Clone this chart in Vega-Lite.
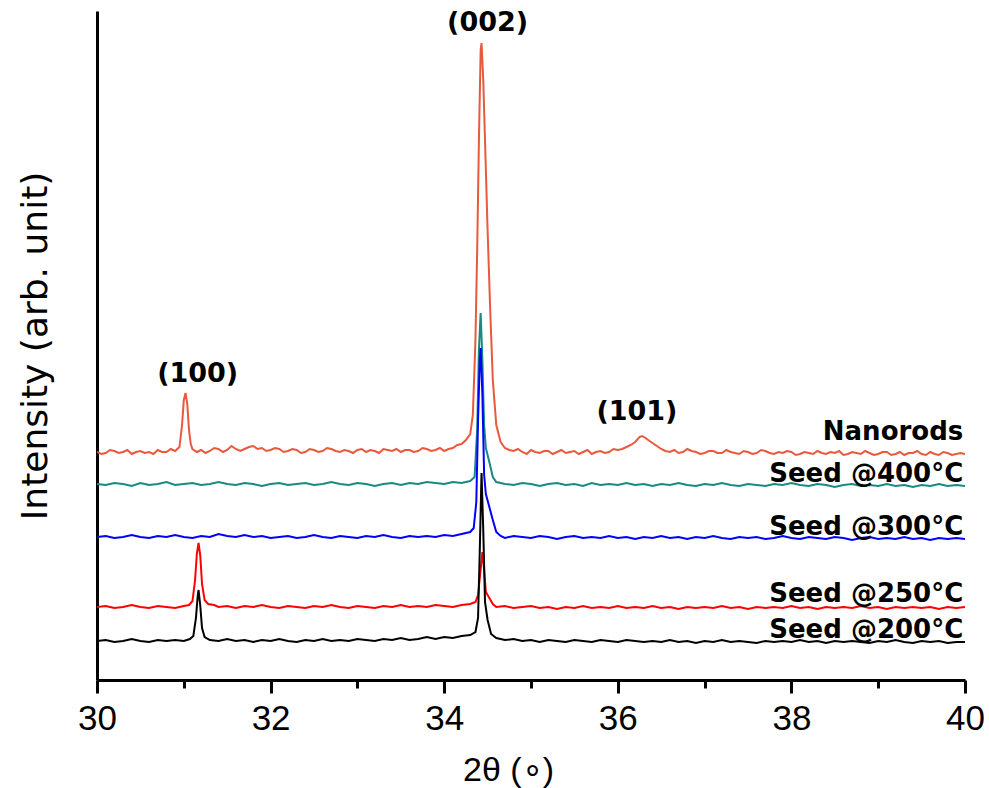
{
"$schema": "https://vega.github.io/schema/vega-lite/v6.json",
"width": 868, "height": 669,
"autosize": {"type": "none"},
"padding": {"left": 97, "top": 11, "right": 24, "bottom": 108},
"background": "white",
"config": {"view": {"stroke": null}},
"datasets": {
"xrd": [
{"s":"Nanorods","x":30.0,"y":228},{"s":"Nanorods","x":30.05,"y":226},{"s":"Nanorods","x":30.1,"y":227},{"s":"Nanorods","x":30.15,"y":230},{"s":"Nanorods","x":30.2,"y":229},{"s":"Nanorods","x":30.25,"y":227},{"s":"Nanorods","x":30.3,"y":228},{"s":"Nanorods","x":30.35,"y":230},{"s":"Nanorods","x":30.4,"y":226},{"s":"Nanorods","x":30.45,"y":228},{"s":"Nanorods","x":30.5,"y":229},{"s":"Nanorods","x":30.55,"y":227},{"s":"Nanorods","x":30.6,"y":228},{"s":"Nanorods","x":30.65,"y":226},{"s":"Nanorods","x":30.7,"y":230},{"s":"Nanorods","x":30.75,"y":228},{"s":"Nanorods","x":30.8,"y":228},{"s":"Nanorods","x":30.85,"y":231},{"s":"Nanorods","x":30.9,"y":229},{"s":"Nanorods","x":30.95,"y":233},{"s":"Nanorods","x":30.98,"y":255},{"s":"Nanorods","x":31.0,"y":280},{"s":"Nanorods","x":31.02,"y":287},{"s":"Nanorods","x":31.04,"y":276},{"s":"Nanorods","x":31.06,"y":250},{"s":"Nanorods","x":31.08,"y":236},{"s":"Nanorods","x":31.1,"y":231},{"s":"Nanorods","x":31.15,"y":228},{"s":"Nanorods","x":31.2,"y":230},{"s":"Nanorods","x":31.25,"y":227},{"s":"Nanorods","x":31.3,"y":229},{"s":"Nanorods","x":31.35,"y":232},{"s":"Nanorods","x":31.4,"y":231},{"s":"Nanorods","x":31.45,"y":228},{"s":"Nanorods","x":31.5,"y":230},{"s":"Nanorods","x":31.55,"y":234},{"s":"Nanorods","x":31.6,"y":231},{"s":"Nanorods","x":31.65,"y":229},{"s":"Nanorods","x":31.7,"y":231},{"s":"Nanorods","x":31.75,"y":233},{"s":"Nanorods","x":31.8,"y":234},{"s":"Nanorods","x":31.85,"y":231},{"s":"Nanorods","x":31.9,"y":232},{"s":"Nanorods","x":31.95,"y":229},{"s":"Nanorods","x":32.0,"y":230},{"s":"Nanorods","x":32.05,"y":232},{"s":"Nanorods","x":32.1,"y":231},{"s":"Nanorods","x":32.15,"y":228},{"s":"Nanorods","x":32.2,"y":229},{"s":"Nanorods","x":32.25,"y":231},{"s":"Nanorods","x":32.3,"y":230},{"s":"Nanorods","x":32.35,"y":227},{"s":"Nanorods","x":32.4,"y":228},{"s":"Nanorods","x":32.45,"y":231},{"s":"Nanorods","x":32.5,"y":230},{"s":"Nanorods","x":32.55,"y":228},{"s":"Nanorods","x":32.6,"y":229},{"s":"Nanorods","x":32.65,"y":232},{"s":"Nanorods","x":32.7,"y":231},{"s":"Nanorods","x":32.75,"y":229},{"s":"Nanorods","x":32.8,"y":228},{"s":"Nanorods","x":32.85,"y":230},{"s":"Nanorods","x":32.9,"y":229},{"s":"Nanorods","x":32.95,"y":227},{"s":"Nanorods","x":33.0,"y":230},{"s":"Nanorods","x":33.05,"y":231},{"s":"Nanorods","x":33.1,"y":228},{"s":"Nanorods","x":33.15,"y":230},{"s":"Nanorods","x":33.2,"y":229},{"s":"Nanorods","x":33.25,"y":227},{"s":"Nanorods","x":33.3,"y":231},{"s":"Nanorods","x":33.35,"y":230},{"s":"Nanorods","x":33.4,"y":229},{"s":"Nanorods","x":33.45,"y":231},{"s":"Nanorods","x":33.5,"y":228},{"s":"Nanorods","x":33.55,"y":230},{"s":"Nanorods","x":33.6,"y":230},{"s":"Nanorods","x":33.65,"y":228},{"s":"Nanorods","x":33.7,"y":229},{"s":"Nanorods","x":33.75,"y":232},{"s":"Nanorods","x":33.8,"y":231},{"s":"Nanorods","x":33.85,"y":229},{"s":"Nanorods","x":33.9,"y":230},{"s":"Nanorods","x":33.95,"y":232},{"s":"Nanorods","x":34.0,"y":229},{"s":"Nanorods","x":34.05,"y":231},{"s":"Nanorods","x":34.1,"y":232},{"s":"Nanorods","x":34.15,"y":235},{"s":"Nanorods","x":34.2,"y":236},{"s":"Nanorods","x":34.25,"y":240},{"s":"Nanorods","x":34.3,"y":246},{"s":"Nanorods","x":34.33,"y":265},{"s":"Nanorods","x":34.36,"y":340},{"s":"Nanorods","x":34.38,"y":430},{"s":"Nanorods","x":34.4,"y":540},{"s":"Nanorods","x":34.42,"y":630},{"s":"Nanorods","x":34.43,"y":637},{"s":"Nanorods","x":34.45,"y":600},{"s":"Nanorods","x":34.47,"y":540},{"s":"Nanorods","x":34.5,"y":450},{"s":"Nanorods","x":34.53,"y":370},{"s":"Nanorods","x":34.56,"y":300},{"s":"Nanorods","x":34.6,"y":255},{"s":"Nanorods","x":34.65,"y":238},{"s":"Nanorods","x":34.7,"y":232},{"s":"Nanorods","x":34.75,"y":230},{"s":"Nanorods","x":34.8,"y":229},{"s":"Nanorods","x":34.85,"y":231},{"s":"Nanorods","x":34.9,"y":228},{"s":"Nanorods","x":34.95,"y":226},{"s":"Nanorods","x":35.0,"y":230},{"s":"Nanorods","x":35.05,"y":228},{"s":"Nanorods","x":35.1,"y":227},{"s":"Nanorods","x":35.15,"y":229},{"s":"Nanorods","x":35.2,"y":229},{"s":"Nanorods","x":35.25,"y":226},{"s":"Nanorods","x":35.3,"y":228},{"s":"Nanorods","x":35.35,"y":230},{"s":"Nanorods","x":35.4,"y":227},{"s":"Nanorods","x":35.45,"y":228},{"s":"Nanorods","x":35.5,"y":229},{"s":"Nanorods","x":35.55,"y":226},{"s":"Nanorods","x":35.6,"y":228},{"s":"Nanorods","x":35.65,"y":230},{"s":"Nanorods","x":35.7,"y":226},{"s":"Nanorods","x":35.75,"y":228},{"s":"Nanorods","x":35.8,"y":229},{"s":"Nanorods","x":35.85,"y":227},{"s":"Nanorods","x":35.9,"y":228},{"s":"Nanorods","x":35.95,"y":231},{"s":"Nanorods","x":36.0,"y":230},{"s":"Nanorods","x":36.05,"y":231},{"s":"Nanorods","x":36.1,"y":233},{"s":"Nanorods","x":36.15,"y":235},{"s":"Nanorods","x":36.2,"y":238},{"s":"Nanorods","x":36.25,"y":243},{"s":"Nanorods","x":36.28,"y":244},{"s":"Nanorods","x":36.32,"y":242},{"s":"Nanorods","x":36.35,"y":240},{"s":"Nanorods","x":36.4,"y":237},{"s":"Nanorods","x":36.45,"y":234},{"s":"Nanorods","x":36.5,"y":231},{"s":"Nanorods","x":36.55,"y":229},{"s":"Nanorods","x":36.6,"y":228},{"s":"Nanorods","x":36.65,"y":230},{"s":"Nanorods","x":36.7,"y":227},{"s":"Nanorods","x":36.75,"y":228},{"s":"Nanorods","x":36.8,"y":231},{"s":"Nanorods","x":36.85,"y":229},{"s":"Nanorods","x":36.9,"y":228},{"s":"Nanorods","x":36.95,"y":226},{"s":"Nanorods","x":37.0,"y":227},{"s":"Nanorods","x":37.05,"y":229},{"s":"Nanorods","x":37.1,"y":229},{"s":"Nanorods","x":37.15,"y":227},{"s":"Nanorods","x":37.2,"y":227},{"s":"Nanorods","x":37.25,"y":230},{"s":"Nanorods","x":37.3,"y":228},{"s":"Nanorods","x":37.35,"y":227},{"s":"Nanorods","x":37.4,"y":226},{"s":"Nanorods","x":37.45,"y":229},{"s":"Nanorods","x":37.5,"y":228},{"s":"Nanorods","x":37.55,"y":226},{"s":"Nanorods","x":37.6,"y":227},{"s":"Nanorods","x":37.65,"y":230},{"s":"Nanorods","x":37.7,"y":229},{"s":"Nanorods","x":37.75,"y":227},{"s":"Nanorods","x":37.8,"y":226},{"s":"Nanorods","x":37.85,"y":228},{"s":"Nanorods","x":37.9,"y":227},{"s":"Nanorods","x":37.95,"y":229},{"s":"Nanorods","x":38.0,"y":228},{"s":"Nanorods","x":38.05,"y":225},{"s":"Nanorods","x":38.1,"y":226},{"s":"Nanorods","x":38.15,"y":228},{"s":"Nanorods","x":38.2,"y":227},{"s":"Nanorods","x":38.25,"y":226},{"s":"Nanorods","x":38.3,"y":229},{"s":"Nanorods","x":38.35,"y":227},{"s":"Nanorods","x":38.4,"y":226},{"s":"Nanorods","x":38.45,"y":228},{"s":"Nanorods","x":38.5,"y":227},{"s":"Nanorods","x":38.55,"y":229},{"s":"Nanorods","x":38.6,"y":225},{"s":"Nanorods","x":38.65,"y":226},{"s":"Nanorods","x":38.7,"y":228},{"s":"Nanorods","x":38.75,"y":227},{"s":"Nanorods","x":38.8,"y":226},{"s":"Nanorods","x":38.85,"y":229},{"s":"Nanorods","x":38.9,"y":227},{"s":"Nanorods","x":38.95,"y":225},{"s":"Nanorods","x":39.0,"y":226},{"s":"Nanorods","x":39.05,"y":228},{"s":"Nanorods","x":39.1,"y":228},{"s":"Nanorods","x":39.15,"y":225},{"s":"Nanorods","x":39.2,"y":226},{"s":"Nanorods","x":39.25,"y":228},{"s":"Nanorods","x":39.3,"y":225},{"s":"Nanorods","x":39.35,"y":227},{"s":"Nanorods","x":39.4,"y":227},{"s":"Nanorods","x":39.45,"y":229},{"s":"Nanorods","x":39.5,"y":226},{"s":"Nanorods","x":39.55,"y":225},{"s":"Nanorods","x":39.6,"y":228},{"s":"Nanorods","x":39.65,"y":226},{"s":"Nanorods","x":39.7,"y":225},{"s":"Nanorods","x":39.75,"y":228},{"s":"Nanorods","x":39.8,"y":227},{"s":"Nanorods","x":39.85,"y":225},{"s":"Nanorods","x":39.9,"y":226},{"s":"Nanorods","x":39.95,"y":227},{"s":"Nanorods","x":40.0,"y":226},

{"s":"S400","x":30.0,"y":196},{"s":"S400","x":30.1,"y":195},{"s":"S400","x":30.2,"y":197},{"s":"S400","x":30.3,"y":196},{"s":"S400","x":30.4,"y":194},{"s":"S400","x":30.5,"y":197},{"s":"S400","x":30.6,"y":195},{"s":"S400","x":30.7,"y":196},{"s":"S400","x":30.8,"y":198},{"s":"S400","x":30.9,"y":195},{"s":"S400","x":31.0,"y":196},{"s":"S400","x":31.1,"y":197},{"s":"S400","x":31.2,"y":195},{"s":"S400","x":31.3,"y":196},{"s":"S400","x":31.4,"y":198},{"s":"S400","x":31.5,"y":196},{"s":"S400","x":31.6,"y":195},{"s":"S400","x":31.7,"y":197},{"s":"S400","x":31.8,"y":196},{"s":"S400","x":31.9,"y":194},{"s":"S400","x":32.0,"y":196},{"s":"S400","x":32.1,"y":197},{"s":"S400","x":32.2,"y":195},{"s":"S400","x":32.3,"y":196},{"s":"S400","x":32.4,"y":197},{"s":"S400","x":32.5,"y":195},{"s":"S400","x":32.6,"y":196},{"s":"S400","x":32.7,"y":198},{"s":"S400","x":32.8,"y":196},{"s":"S400","x":32.9,"y":195},{"s":"S400","x":33.0,"y":197},{"s":"S400","x":33.1,"y":196},{"s":"S400","x":33.2,"y":194},{"s":"S400","x":33.3,"y":196},{"s":"S400","x":33.4,"y":197},{"s":"S400","x":33.5,"y":195},{"s":"S400","x":33.6,"y":197},{"s":"S400","x":33.7,"y":196},{"s":"S400","x":33.8,"y":198},{"s":"S400","x":33.9,"y":197},{"s":"S400","x":34.0,"y":196},{"s":"S400","x":34.1,"y":198},{"s":"S400","x":34.2,"y":197},{"s":"S400","x":34.3,"y":199},{"s":"S400","x":34.35,"y":203},{"s":"S400","x":34.38,"y":250},{"s":"S400","x":34.4,"y":330},{"s":"S400","x":34.42,"y":367},{"s":"S400","x":34.44,"y":320},{"s":"S400","x":34.46,"y":255},{"s":"S400","x":34.48,"y":232},{"s":"S400","x":34.52,"y":218},{"s":"S400","x":34.56,"y":203},{"s":"S400","x":34.6,"y":198},{"s":"S400","x":34.7,"y":196},{"s":"S400","x":34.8,"y":195},{"s":"S400","x":34.9,"y":197},{"s":"S400","x":35.0,"y":196},{"s":"S400","x":35.1,"y":194},{"s":"S400","x":35.2,"y":196},{"s":"S400","x":35.3,"y":197},{"s":"S400","x":35.4,"y":195},{"s":"S400","x":35.5,"y":196},{"s":"S400","x":35.6,"y":194},{"s":"S400","x":35.7,"y":197},{"s":"S400","x":35.8,"y":195},{"s":"S400","x":35.9,"y":196},{"s":"S400","x":36.0,"y":195},{"s":"S400","x":36.1,"y":197},{"s":"S400","x":36.2,"y":195},{"s":"S400","x":36.3,"y":196},{"s":"S400","x":36.4,"y":194},{"s":"S400","x":36.5,"y":196},{"s":"S400","x":36.6,"y":195},{"s":"S400","x":36.7,"y":197},{"s":"S400","x":36.8,"y":195},{"s":"S400","x":36.9,"y":194},{"s":"S400","x":37.0,"y":196},{"s":"S400","x":37.1,"y":195},{"s":"S400","x":37.2,"y":197},{"s":"S400","x":37.3,"y":195},{"s":"S400","x":37.4,"y":194},{"s":"S400","x":37.5,"y":196},{"s":"S400","x":37.6,"y":195},{"s":"S400","x":37.7,"y":194},{"s":"S400","x":37.8,"y":196},{"s":"S400","x":37.9,"y":195},{"s":"S400","x":38.0,"y":197},{"s":"S400","x":38.1,"y":195},{"s":"S400","x":38.2,"y":194},{"s":"S400","x":38.3,"y":196},{"s":"S400","x":38.4,"y":195},{"s":"S400","x":38.5,"y":193},{"s":"S400","x":38.6,"y":195},{"s":"S400","x":38.7,"y":196},{"s":"S400","x":38.8,"y":194},{"s":"S400","x":38.9,"y":195},{"s":"S400","x":39.0,"y":194},{"s":"S400","x":39.1,"y":196},{"s":"S400","x":39.2,"y":194},{"s":"S400","x":39.3,"y":195},{"s":"S400","x":39.4,"y":193},{"s":"S400","x":39.5,"y":195},{"s":"S400","x":39.6,"y":194},{"s":"S400","x":39.7,"y":196},{"s":"S400","x":39.8,"y":194},{"s":"S400","x":39.9,"y":195},{"s":"S400","x":40.0,"y":194},

{"s":"S300","x":30.0,"y":143},{"s":"S300","x":30.1,"y":144},{"s":"S300","x":30.2,"y":142},{"s":"S300","x":30.3,"y":143},{"s":"S300","x":30.4,"y":145},{"s":"S300","x":30.5,"y":143},{"s":"S300","x":30.6,"y":142},{"s":"S300","x":30.7,"y":144},{"s":"S300","x":30.8,"y":143},{"s":"S300","x":30.9,"y":145},{"s":"S300","x":31.0,"y":143},{"s":"S300","x":31.1,"y":142},{"s":"S300","x":31.2,"y":144},{"s":"S300","x":31.3,"y":143},{"s":"S300","x":31.4,"y":146},{"s":"S300","x":31.5,"y":144},{"s":"S300","x":31.6,"y":143},{"s":"S300","x":31.7,"y":145},{"s":"S300","x":31.8,"y":143},{"s":"S300","x":31.9,"y":144},{"s":"S300","x":32.0,"y":142},{"s":"S300","x":32.1,"y":143},{"s":"S300","x":32.2,"y":144},{"s":"S300","x":32.3,"y":142},{"s":"S300","x":32.4,"y":143},{"s":"S300","x":32.5,"y":145},{"s":"S300","x":32.6,"y":143},{"s":"S300","x":32.7,"y":142},{"s":"S300","x":32.8,"y":144},{"s":"S300","x":32.9,"y":143},{"s":"S300","x":33.0,"y":142},{"s":"S300","x":33.1,"y":144},{"s":"S300","x":33.2,"y":143},{"s":"S300","x":33.3,"y":145},{"s":"S300","x":33.4,"y":143},{"s":"S300","x":33.5,"y":142},{"s":"S300","x":33.6,"y":144},{"s":"S300","x":33.7,"y":143},{"s":"S300","x":33.8,"y":144},{"s":"S300","x":33.9,"y":143},{"s":"S300","x":34.0,"y":145},{"s":"S300","x":34.1,"y":144},{"s":"S300","x":34.2,"y":146},{"s":"S300","x":34.3,"y":148},{"s":"S300","x":34.34,"y":152},{"s":"S300","x":34.37,"y":178},{"s":"S300","x":34.39,"y":260},{"s":"S300","x":34.41,"y":320},{"s":"S300","x":34.42,"y":332},{"s":"S300","x":34.44,"y":285},{"s":"S300","x":34.46,"y":205},{"s":"S300","x":34.48,"y":186},{"s":"S300","x":34.52,"y":173},{"s":"S300","x":34.56,"y":160},{"s":"S300","x":34.6,"y":148},{"s":"S300","x":34.65,"y":144},{"s":"S300","x":34.7,"y":142},{"s":"S300","x":34.8,"y":144},{"s":"S300","x":34.9,"y":143},{"s":"S300","x":35.0,"y":142},{"s":"S300","x":35.1,"y":144},{"s":"S300","x":35.2,"y":143},{"s":"S300","x":35.3,"y":141},{"s":"S300","x":35.4,"y":143},{"s":"S300","x":35.5,"y":144},{"s":"S300","x":35.6,"y":142},{"s":"S300","x":35.7,"y":143},{"s":"S300","x":35.8,"y":142},{"s":"S300","x":35.9,"y":144},{"s":"S300","x":36.0,"y":142},{"s":"S300","x":36.1,"y":143},{"s":"S300","x":36.2,"y":141},{"s":"S300","x":36.3,"y":143},{"s":"S300","x":36.4,"y":142},{"s":"S300","x":36.5,"y":144},{"s":"S300","x":36.6,"y":142},{"s":"S300","x":36.7,"y":143},{"s":"S300","x":36.8,"y":141},{"s":"S300","x":36.9,"y":143},{"s":"S300","x":37.0,"y":142},{"s":"S300","x":37.1,"y":144},{"s":"S300","x":37.2,"y":142},{"s":"S300","x":37.3,"y":141},{"s":"S300","x":37.4,"y":143},{"s":"S300","x":37.5,"y":142},{"s":"S300","x":37.6,"y":143},{"s":"S300","x":37.7,"y":141},{"s":"S300","x":37.8,"y":142},{"s":"S300","x":37.9,"y":144},{"s":"S300","x":38.0,"y":142},{"s":"S300","x":38.1,"y":141},{"s":"S300","x":38.2,"y":143},{"s":"S300","x":38.3,"y":142},{"s":"S300","x":38.4,"y":141},{"s":"S300","x":38.5,"y":143},{"s":"S300","x":38.6,"y":142},{"s":"S300","x":38.7,"y":140},{"s":"S300","x":38.8,"y":142},{"s":"S300","x":38.9,"y":143},{"s":"S300","x":39.0,"y":141},{"s":"S300","x":39.1,"y":142},{"s":"S300","x":39.2,"y":141},{"s":"S300","x":39.3,"y":143},{"s":"S300","x":39.4,"y":141},{"s":"S300","x":39.5,"y":142},{"s":"S300","x":39.6,"y":140},{"s":"S300","x":39.7,"y":142},{"s":"S300","x":39.8,"y":141},{"s":"S300","x":39.9,"y":142},{"s":"S300","x":40.0,"y":141},

{"s":"S250","x":30.0,"y":73},{"s":"S250","x":30.1,"y":74},{"s":"S250","x":30.2,"y":72},{"s":"S250","x":30.3,"y":73},{"s":"S250","x":30.4,"y":75},{"s":"S250","x":30.5,"y":73},{"s":"S250","x":30.6,"y":72},{"s":"S250","x":30.7,"y":74},{"s":"S250","x":30.8,"y":73},{"s":"S250","x":30.9,"y":72},{"s":"S250","x":31.0,"y":74},{"s":"S250","x":31.06,"y":75},{"s":"S250","x":31.1,"y":79},{"s":"S250","x":31.13,"y":100},{"s":"S250","x":31.15,"y":126},{"s":"S250","x":31.17,"y":137},{"s":"S250","x":31.19,"y":124},{"s":"S250","x":31.21,"y":96},{"s":"S250","x":31.24,"y":80},{"s":"S250","x":31.28,"y":76},{"s":"S250","x":31.35,"y":75},{"s":"S250","x":31.4,"y":73},{"s":"S250","x":31.5,"y":74},{"s":"S250","x":31.6,"y":72},{"s":"S250","x":31.7,"y":74},{"s":"S250","x":31.8,"y":73},{"s":"S250","x":31.9,"y":75},{"s":"S250","x":32.0,"y":73},{"s":"S250","x":32.1,"y":72},{"s":"S250","x":32.2,"y":74},{"s":"S250","x":32.3,"y":73},{"s":"S250","x":32.4,"y":72},{"s":"S250","x":32.5,"y":74},{"s":"S250","x":32.6,"y":73},{"s":"S250","x":32.7,"y":75},{"s":"S250","x":32.8,"y":73},{"s":"S250","x":32.9,"y":72},{"s":"S250","x":33.0,"y":74},{"s":"S250","x":33.1,"y":73},{"s":"S250","x":33.2,"y":72},{"s":"S250","x":33.3,"y":74},{"s":"S250","x":33.4,"y":73},{"s":"S250","x":33.5,"y":75},{"s":"S250","x":33.6,"y":73},{"s":"S250","x":33.7,"y":74},{"s":"S250","x":33.8,"y":73},{"s":"S250","x":33.9,"y":75},{"s":"S250","x":34.0,"y":74},{"s":"S250","x":34.1,"y":73},{"s":"S250","x":34.2,"y":75},{"s":"S250","x":34.3,"y":76},{"s":"S250","x":34.36,"y":78},{"s":"S250","x":34.39,"y":85},{"s":"S250","x":34.41,"y":102},{"s":"S250","x":34.44,"y":128},{"s":"S250","x":34.46,"y":110},{"s":"S250","x":34.48,"y":88},{"s":"S250","x":34.52,"y":82},{"s":"S250","x":34.56,"y":76},{"s":"S250","x":34.6,"y":73},{"s":"S250","x":34.7,"y":74},{"s":"S250","x":34.8,"y":72},{"s":"S250","x":34.9,"y":73},{"s":"S250","x":35.0,"y":74},{"s":"S250","x":35.1,"y":72},{"s":"S250","x":35.2,"y":73},{"s":"S250","x":35.3,"y":71},{"s":"S250","x":35.4,"y":73},{"s":"S250","x":35.5,"y":72},{"s":"S250","x":35.6,"y":74},{"s":"S250","x":35.7,"y":72},{"s":"S250","x":35.8,"y":73},{"s":"S250","x":35.9,"y":72},{"s":"S250","x":36.0,"y":74},{"s":"S250","x":36.1,"y":72},{"s":"S250","x":36.2,"y":73},{"s":"S250","x":36.3,"y":72},{"s":"S250","x":36.4,"y":74},{"s":"S250","x":36.5,"y":72},{"s":"S250","x":36.6,"y":73},{"s":"S250","x":36.7,"y":71},{"s":"S250","x":36.8,"y":73},{"s":"S250","x":36.9,"y":72},{"s":"S250","x":37.0,"y":73},{"s":"S250","x":37.1,"y":72},{"s":"S250","x":37.2,"y":74},{"s":"S250","x":37.3,"y":72},{"s":"S250","x":37.4,"y":73},{"s":"S250","x":37.5,"y":71},{"s":"S250","x":37.6,"y":73},{"s":"S250","x":37.7,"y":72},{"s":"S250","x":37.8,"y":73},{"s":"S250","x":37.9,"y":72},{"s":"S250","x":38.0,"y":74},{"s":"S250","x":38.1,"y":72},{"s":"S250","x":38.2,"y":73},{"s":"S250","x":38.3,"y":71},{"s":"S250","x":38.4,"y":73},{"s":"S250","x":38.5,"y":72},{"s":"S250","x":38.6,"y":73},{"s":"S250","x":38.7,"y":72},{"s":"S250","x":38.8,"y":74},{"s":"S250","x":38.9,"y":72},{"s":"S250","x":39.0,"y":73},{"s":"S250","x":39.1,"y":71},{"s":"S250","x":39.2,"y":73},{"s":"S250","x":39.3,"y":72},{"s":"S250","x":39.4,"y":73},{"s":"S250","x":39.5,"y":72},{"s":"S250","x":39.6,"y":73},{"s":"S250","x":39.7,"y":71},{"s":"S250","x":39.8,"y":73},{"s":"S250","x":39.9,"y":72},{"s":"S250","x":40.0,"y":73},

{"s":"S200","x":30.0,"y":39},{"s":"S200","x":30.1,"y":40},{"s":"S200","x":30.2,"y":38},{"s":"S200","x":30.3,"y":39},{"s":"S200","x":30.4,"y":41},{"s":"S200","x":30.5,"y":39},{"s":"S200","x":30.6,"y":38},{"s":"S200","x":30.7,"y":40},{"s":"S200","x":30.8,"y":39},{"s":"S200","x":30.9,"y":40},{"s":"S200","x":31.0,"y":39},{"s":"S200","x":31.07,"y":41},{"s":"S200","x":31.11,"y":44},{"s":"S200","x":31.14,"y":62},{"s":"S200","x":31.16,"y":84},{"s":"S200","x":31.17,"y":90},{"s":"S200","x":31.19,"y":74},{"s":"S200","x":31.21,"y":52},{"s":"S200","x":31.24,"y":43},{"s":"S200","x":31.3,"y":40},{"s":"S200","x":31.4,"y":39},{"s":"S200","x":31.5,"y":41},{"s":"S200","x":31.6,"y":39},{"s":"S200","x":31.7,"y":40},{"s":"S200","x":31.8,"y":38},{"s":"S200","x":31.9,"y":40},{"s":"S200","x":32.0,"y":39},{"s":"S200","x":32.1,"y":41},{"s":"S200","x":32.2,"y":39},{"s":"S200","x":32.3,"y":38},{"s":"S200","x":32.4,"y":40},{"s":"S200","x":32.5,"y":39},{"s":"S200","x":32.6,"y":41},{"s":"S200","x":32.7,"y":39},{"s":"S200","x":32.8,"y":40},{"s":"S200","x":32.9,"y":39},{"s":"S200","x":33.0,"y":41},{"s":"S200","x":33.1,"y":40},{"s":"S200","x":33.2,"y":39},{"s":"S200","x":33.3,"y":41},{"s":"S200","x":33.4,"y":40},{"s":"S200","x":33.5,"y":42},{"s":"S200","x":33.6,"y":40},{"s":"S200","x":33.7,"y":41},{"s":"S200","x":33.8,"y":43},{"s":"S200","x":33.9,"y":41},{"s":"S200","x":34.0,"y":43},{"s":"S200","x":34.1,"y":42},{"s":"S200","x":34.2,"y":44},{"s":"S200","x":34.3,"y":45},{"s":"S200","x":34.36,"y":48},{"s":"S200","x":34.39,"y":62},{"s":"S200","x":34.41,"y":130},{"s":"S200","x":34.43,"y":207},{"s":"S200","x":34.45,"y":150},{"s":"S200","x":34.47,"y":78},{"s":"S200","x":34.5,"y":60},{"s":"S200","x":34.54,"y":46},{"s":"S200","x":34.6,"y":42},{"s":"S200","x":34.7,"y":40},{"s":"S200","x":34.8,"y":41},{"s":"S200","x":34.9,"y":39},{"s":"S200","x":35.0,"y":40},{"s":"S200","x":35.1,"y":38},{"s":"S200","x":35.2,"y":40},{"s":"S200","x":35.3,"y":39},{"s":"S200","x":35.4,"y":38},{"s":"S200","x":35.5,"y":40},{"s":"S200","x":35.6,"y":39},{"s":"S200","x":35.7,"y":38},{"s":"S200","x":35.8,"y":40},{"s":"S200","x":35.9,"y":39},{"s":"S200","x":36.0,"y":38},{"s":"S200","x":36.1,"y":40},{"s":"S200","x":36.2,"y":39},{"s":"S200","x":36.3,"y":38},{"s":"S200","x":36.4,"y":39},{"s":"S200","x":36.5,"y":38},{"s":"S200","x":36.6,"y":40},{"s":"S200","x":36.7,"y":38},{"s":"S200","x":36.8,"y":39},{"s":"S200","x":36.9,"y":37},{"s":"S200","x":37.0,"y":39},{"s":"S200","x":37.1,"y":38},{"s":"S200","x":37.2,"y":40},{"s":"S200","x":37.3,"y":38},{"s":"S200","x":37.4,"y":39},{"s":"S200","x":37.5,"y":38},{"s":"S200","x":37.6,"y":37},{"s":"S200","x":37.7,"y":39},{"s":"S200","x":37.8,"y":38},{"s":"S200","x":37.9,"y":39},{"s":"S200","x":38.0,"y":38},{"s":"S200","x":38.1,"y":40},{"s":"S200","x":38.2,"y":38},{"s":"S200","x":38.3,"y":39},{"s":"S200","x":38.4,"y":37},{"s":"S200","x":38.5,"y":39},{"s":"S200","x":38.6,"y":38},{"s":"S200","x":38.7,"y":39},{"s":"S200","x":38.8,"y":38},{"s":"S200","x":38.9,"y":37},{"s":"S200","x":39.0,"y":39},{"s":"S200","x":39.1,"y":38},{"s":"S200","x":39.2,"y":40},{"s":"S200","x":39.3,"y":38},{"s":"S200","x":39.4,"y":37},{"s":"S200","x":39.5,"y":39},{"s":"S200","x":39.6,"y":38},{"s":"S200","x":39.7,"y":39},{"s":"S200","x":39.8,"y":37},{"s":"S200","x":39.9,"y":38},{"s":"S200","x":40.0,"y":38}
],
"peaks": [
{"x":34.5,"y":657,"t":"(002)"},
{"x":31.16,"y":306,"t":"(100)"},
{"x":36.22,"y":268,"t":"(101)"}
],
"names": [
{"x":39.98,"y":248,"t":"Nanorods"},
{"x":39.98,"y":206,"t":"Seed @400°C"},
{"x":39.98,"y":153,"t":"Seed @300°C"},
{"x":39.98,"y":86,"t":"Seed @250°C"},
{"x":39.98,"y":50,"t":"Seed @200°C"}
]
},
"resolve": {"axis": {"x": "independent"}},
"layer": [
{
"data": {"name": "xrd"},
"mark": {"type": "line", "strokeWidth": 2, "clip": true},
"encoding": {
"x": {"field": "x", "type": "quantitative", "scale": {"domain": [30, 40], "nice": false, "zero": false},
"axis": {"orient": "bottom", "values": [30, 32, 34, 36, 38, 40], "title": "2θ (∘)", "titleFont": "Liberation Sans", "titleFontSize": 34, "titleFontWeight": "normal", "titleColor": "black", "titleX": 411, "titleY": 100, "titleBaseline": "alphabetic", "titleAlign": "center", "titleAnchor": null,
"labelFont": "Liberation Sans", "labelFontSize": 35, "labelColor": "black", "labelPadding": 8, "labelFlush": false,
"tickSize": 13, "tickWidth": 3, "tickColor": "black", "domainWidth": 3, "domainColor": "black", "grid": false}},
"y": {"field": "y", "type": "quantitative", "scale": {"domain": [0, 669], "nice": false, "zero": false},
"axis": {"title": "Intensity (arb. unit)", "titleFont": "DejaVu Sans", "titleFontSize": 36, "titleFontWeight": "normal", "titleColor": "black", "titlePadding": 43,
"labels": false, "ticks": false, "grid": false, "domainWidth": 3, "domainColor": "black"}},
"color": {"field": "s", "type": "nominal", "legend": null,
"scale": {"domain": ["Nanorods", "S400", "S300", "S250", "S200"], "range": ["#E8593D", "#178A82", "#0000FF", "#FF0000", "#000000"]}},
"order": {"field": "x", "type": "quantitative"}
}
},
{
"data": {"name": "peaks"},
"mark": {"type": "text", "font": "DejaVu Sans", "fontWeight": "bold", "fontSize": 27, "align": "center", "baseline": "middle", "color": "black"},
"encoding": {
"x": {"field": "x", "type": "quantitative", "axis": {"orient": "bottom", "values": [31, 33, 35, 37, 39], "labels": false, "title": null, "domain": false, "tickSize": 8, "tickWidth": 3, "tickColor": "black", "grid": false}},
"y": {"field": "y", "type": "quantitative"},
"text": {"field": "t"}
}
},
{
"data": {"name": "names"},
"mark": {"type": "text", "font": "DejaVu Sans", "fontWeight": "bold", "fontSize": 26, "align": "right", "baseline": "middle", "color": "black"},
"encoding": {
"x": {"field": "x", "type": "quantitative", "axis": null},
"y": {"field": "y", "type": "quantitative"},
"text": {"field": "t"}
}
}
]
}
